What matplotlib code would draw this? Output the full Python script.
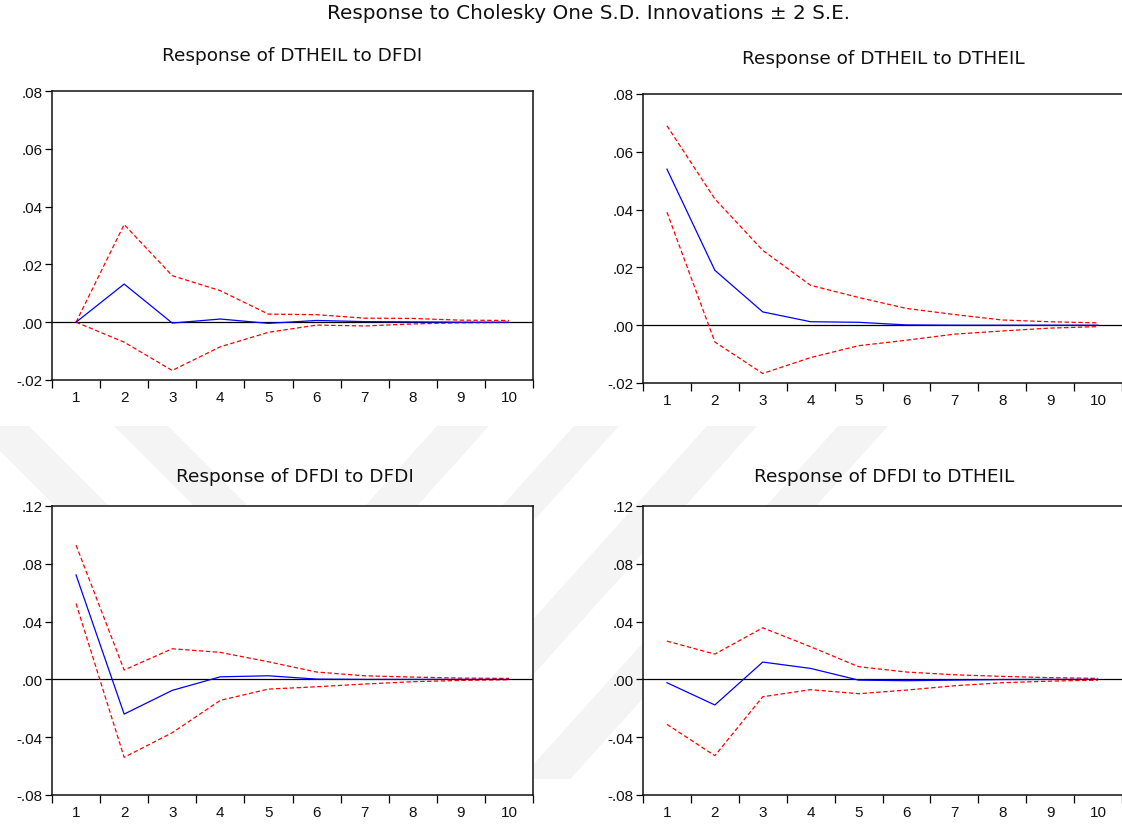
import matplotlib
matplotlib.use("Agg")
import matplotlib.pyplot as plt
from matplotlib.ticker import FixedLocator, FuncFormatter
from matplotlib.patches import Polygon
import numpy as np

plt.rcParams['font.family'] = ['Liberation Sans', 'DejaVu Sans']

periods = list(range(1, 11))

# Response of DTHEIL to DFDI
tl_resp = [0.0, 0.0132, -0.0003, 0.0011, -0.0004, 0.0006, 0.0002, 0.0001, 0.0000, 0.0000]
tl_up = [0.0, 0.0338, 0.0161, 0.0109, 0.0028, 0.0026, 0.0014, 0.0013, 0.0007, 0.0006]
tl_lo = [0.0, -0.0069, -0.0167, -0.0085, -0.0035, -0.0010, -0.0013, -0.0006, -0.0002, -0.0001]

# Response of DTHEIL to DTHEIL
tr_resp = [0.0540, 0.0190, 0.0046, 0.0012, 0.0010, 0.0001, 0.0000, 0.0000, 0.0000, 0.0000]
tr_up = [0.0690, 0.0437, 0.0259, 0.0138, 0.0096, 0.0058, 0.0037, 0.0018, 0.0012, 0.0008]
tr_lo = [0.0391, -0.0058, -0.0167, -0.0112, -0.0071, -0.0052, -0.0031, -0.0020, -0.0010, -0.0005]

# Response of DFDI to DFDI
bl_resp = [0.0723, -0.0240, -0.0076, 0.0018, 0.0025, 0.0002, 0.0000, 0.0000, 0.0000, 0.0000]
bl_up = [0.0929, 0.0065, 0.0212, 0.0187, 0.0122, 0.0051, 0.0025, 0.0016, 0.0009, 0.0007]
bl_lo = [0.0525, -0.0539, -0.0369, -0.0145, -0.0067, -0.0051, -0.0032, -0.0016, -0.0007, -0.0002]

# Response of DFDI to DTHEIL
br_resp = [-0.0023, -0.0177, 0.0120, 0.0076, -0.0005, -0.0009, -0.0005, -0.0001, 0.0000, 0.0000]
br_up = [0.0265, 0.0175, 0.0357, 0.0226, 0.0088, 0.0051, 0.0032, 0.0021, 0.0012, 0.0007]
br_lo = [-0.0311, -0.0528, -0.0120, -0.0071, -0.0099, -0.0074, -0.0044, -0.0023, -0.0012, -0.0005]

titles = ["Response of DTHEIL to DFDI", "Response of DTHEIL to DTHEIL",
          "Response of DFDI to DFDI", "Response of DFDI to DTHEIL"]
main_title = "Response to Cholesky One S.D. Innovations \u00b1 2 S.E."

W, H = 1122, 829
fig = plt.figure(figsize=(W / 100, H / 100), dpi=100)

# faint background watermark stripes (behind the plot frames)
wm_top, wm_bot = 427, 780
wm_color = '#f4f4f4'
back_stripes = [(-25, 29), (114, 168)]
fwd_stripes = [(437, 489), (574, 619), (707, 757), (838, 888)]
for a, b in back_stripes:
    d = 1.0 * (wm_bot - wm_top)
    pts = [(a, wm_top), (b, wm_top), (b + d, wm_bot), (a + d, wm_bot)]
    fig.add_artist(Polygon([(x / W, 1 - y / H) for x, y in pts], closed=True,
                           transform=fig.transFigure, facecolor=wm_color,
                           edgecolor='none', zorder=-5))
for a, b in fwd_stripes:
    d = 0.9 * (wm_bot - wm_top)
    pts = [(a, wm_top), (b, wm_top), (b - d, wm_bot), (a - d, wm_bot)]
    fig.add_artist(Polygon([(x / W, 1 - y / H) for x, y in pts], closed=True,
                           transform=fig.transFigure, facecolor=wm_color,
                           edgecolor='none', zorder=-5))

def px_axes(l, t, r, b):
    return fig.add_axes([l / W, 1 - b / H, (r - l) / W, (b - t) / H])

def fmt(v, pos):
    s = "%.2f" % v
    s = s.replace("0.", ".")
    if s == "-.00":
        s = ".00"
    return s

panels = [
    (px_axes(52, 92, 533, 381), tl_resp, tl_up, tl_lo, (-0.02, 0.08), [-0.02, 0.0, 0.02, 0.04, 0.06, 0.08], titles[0], True, (292.5, 61)),
    (px_axes(643, 95, 1122, 384), tr_resp, tr_up, tr_lo, (-0.02, 0.08), [-0.02, 0.0, 0.02, 0.04, 0.06, 0.08], titles[1], False, (883.5, 64)),
    (px_axes(52, 507, 533, 796), bl_resp, bl_up, bl_lo, (-0.08, 0.12), [-0.08, -0.04, 0.0, 0.04, 0.08, 0.12], titles[2], True, (294.5, 482)),
    (px_axes(643, 507, 1122, 796), br_resp, br_up, br_lo, (-0.08, 0.12), [-0.08, -0.04, 0.0, 0.04, 0.08, 0.12], titles[3], False, (884, 482)),
]

for ax, resp, up, lo, ylim, yticks, title, right_spine, tpos in panels:
    ax.set_facecolor('white')
    ax.axhline(0, color='black', lw=0.9, zorder=1)
    ax.plot(periods, up, color='#ff0000', lw=0.9, ls=(0, (3.5, 2.0)), zorder=2)
    ax.plot(periods, lo, color='#ff0000', lw=0.9, ls=(0, (3.5, 2.0)), zorder=2)
    ax.plot(periods, resp, color='#0000ff', lw=0.9, zorder=3)
    ax.set_xlim(0.5, 10.5)
    ax.set_ylim(*ylim)
    ax.yaxis.set_major_locator(FixedLocator(yticks))
    ax.yaxis.set_major_formatter(FuncFormatter(fmt))
    ax.xaxis.set_major_locator(FixedLocator(np.arange(0.5, 11.0, 1.0)))
    ax.xaxis.set_major_formatter(FuncFormatter(lambda v, p: ""))
    ax.xaxis.set_minor_locator(FixedLocator(periods))
    ax.xaxis.set_minor_formatter(FuncFormatter(lambda v, p: "%d" % round(v)))
    ax.tick_params(axis='x', which='major', direction='out', length=6, width=0.9, colors='black')
    ax.tick_params(axis='x', which='minor', length=0, labelsize=11, pad=7, labelcolor='#111111')
    ax.tick_params(axis='y', which='major', direction='out', length=5, width=0.9, labelsize=11, pad=2, labelcolor='#111111')
    for s in ax.spines.values():
        s.set_linewidth(1.1)
        s.set_color('#111111')
    if not right_spine:
        ax.spines['right'].set_visible(False)
    fig.text(tpos[0] / W, 1 - tpos[1] / H, title, ha='center', va='baseline',
             fontsize=13.3, color='#111111', family=['DejaVu Sans'])

fig.text(588.5 / W, 1 - 19 / H, main_title, ha='center', va='baseline',
         fontsize=14.4, color='#111111', family=['DejaVu Sans'])

fig.savefig("out.png", dpi=100, facecolor='white')
